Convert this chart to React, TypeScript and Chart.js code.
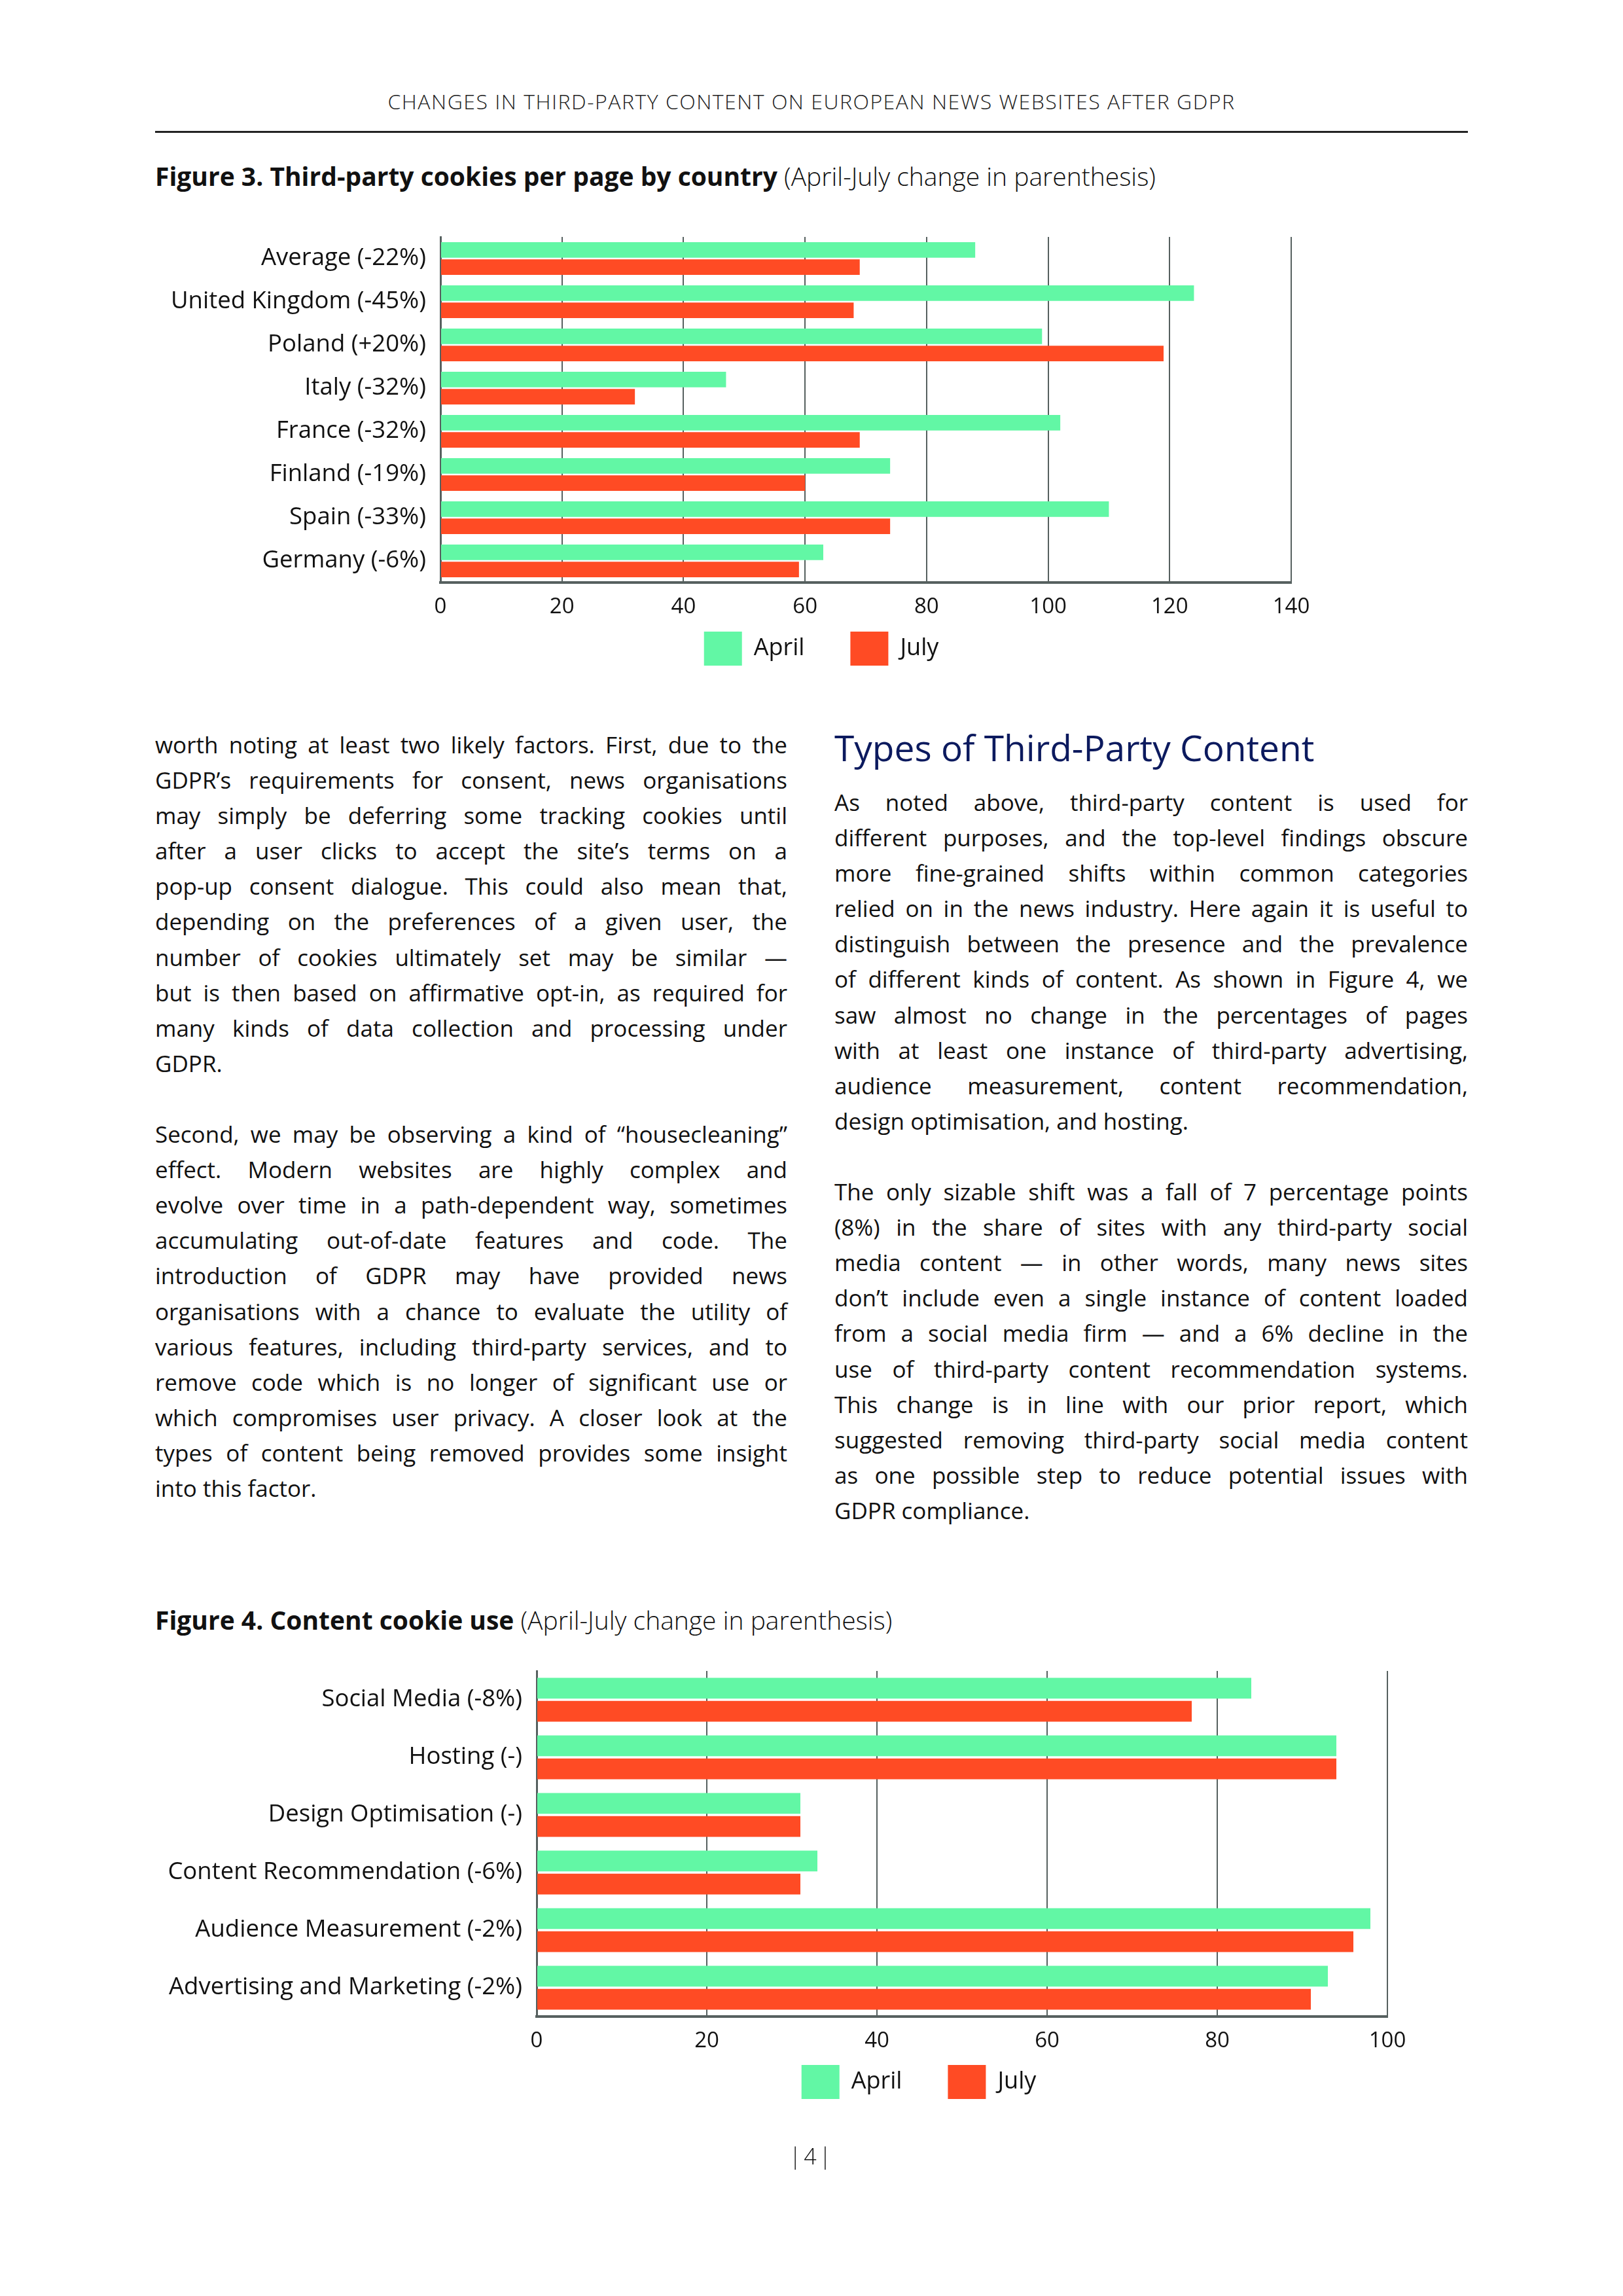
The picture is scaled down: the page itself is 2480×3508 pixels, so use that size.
import React, { useEffect, useRef } from 'react';
import { Chart, registerables } from 'chart.js';

Chart.register(...registerables);

// ---------- Data ----------
const fig3Categories = [
  'Average (-22%)',
  'United Kingdom (-45%)',
  'Poland (+20%)',
  'Italy (-32%)',
  'France (-32%)',
  'Finland (-19%)',
  'Spain (-33%)',
  'Germany (-6%)',
];
const fig3April = [88, 124, 99, 47, 102, 74, 110, 63];
const fig3July = [69, 68, 119, 32, 69, 60, 74, 59];
const fig3Max = 140;

const fig4Categories = [
  'Social Media (-8%)',
  'Hosting (-)',
  'Design Optimisation (-)',
  'Content Recommendation (-6%)',
  'Audience Measurement (-2%)',
  'Advertising and Marketing (-2%)',
];
const fig4April = [84, 94, 31, 33, 98, 93];
const fig4July = [77, 94, 31, 31, 96, 91];
const fig4Max = 100;

const tickStep = 20;
const seriesNames = ['April', 'July'];

// ---------- Text ----------
const headerText = 'CHANGES IN THIRD-PARTY CONTENT ON EUROPEAN NEWS WEBSITES AFTER GDPR';
const leftPara1 = [
  'worth noting at least two likely factors. First, due to the',
  'GDPR’s requirements for consent, news organisations',
  'may simply be deferring some tracking cookies until',
  'after a user clicks to accept the site’s terms on a',
  'pop-up consent dialogue. This could also mean that,',
  'depending on the preferences of a given user, the',
  'number of cookies ultimately set may be similar —',
  'but is then based on affirmative opt-in, as required for',
  'many kinds of data collection and processing under',
  'GDPR.',
];
const leftPara2 = [
  'Second, we may be observing a kind of “housecleaning”',
  'effect. Modern websites are highly complex and',
  'evolve over time in a path-dependent way, sometimes',
  'accumulating out-of-date features and code. The',
  'introduction of GDPR may have provided news',
  'organisations with a chance to evaluate the utility of',
  'various features, including third-party services, and to',
  'remove code which is no longer of significant use or',
  'which compromises user privacy. A closer look at the',
  'types of content being removed provides some insight',
  'into this factor.',
];
const rightPara1 = [
  'As noted above, third-party content is used for',
  'different purposes, and the top-level findings obscure',
  'more fine-grained shifts within common categories',
  'relied on in the news industry. Here again it is useful to',
  'distinguish between the presence and the prevalence',
  'of different kinds of content. As shown in Figure 4, we',
  'saw almost no change in the percentages of pages',
  'with at least one instance of third-party advertising,',
  'audience measurement, content recommendation,',
  'design optimisation, and hosting.',
];
const rightPara2 = [
  'The only sizable shift was a fall of 7 percentage points',
  '(8%) in the share of sites with any third-party social',
  'media content — in other words, many news sites',
  'don’t include even a single instance of content loaded',
  'from a social media firm — and a 6% decline in the',
  'use of third-party content recommendation systems.',
  'This change is in line with our prior report, which',
  'suggested removing third-party social media content',
  'as one possible step to reduce potential issues with',
  'GDPR compliance.',
];

// ---------- Style ----------
const FONT = "'Open Sans', 'Noto Sans', sans-serif";
const GREEN = '#62F7A5';
const RED = '#FF4B24';
const GRID = '#56605F';
const TEXT = '#111111';
const NAVY = '#0C1A5E';
const LEGEND_PAD = 70;
const RIGHT_PAD = 60;

type ChartProps = {
  labels: string[];
  april: number[];
  july: number[];
  max: number;
  left: number;
  top: number;
  width: number;
  height: number;
  padTop: number;
  yWidth: number;
  legendCenter: number; // desired legend centre, in canvas pixels
  legendGap: number;
};

function BarChart(p: ChartProps) {
  const ref = useRef<HTMLCanvasElement>(null);
  useEffect(() => {
    if (!ref.current) return;
    const shiftPlugin = {
      id: 'legendShift',
      afterLayout(chart: any) {
        const lg = chart.legend;
        if (lg) {
          const dx = p.legendCenter - (lg.left + lg.right) / 2;
          lg.left += dx;
          lg.right += dx;
          const targetTop = chart.chartArea.bottom + p.legendGap - LEGEND_PAD;
          const d = targetTop - lg.top;
          lg.top += d;
          lg.bottom += d;
        }
      },
    };
    const chart = new Chart(ref.current, {
      type: 'bar',
      data: {
        labels: p.labels,
        datasets: [
          {
            label: seriesNames[0],
            data: p.april,
            backgroundColor: GREEN,
            borderWidth: 0,
            barPercentage: 0.9,
            categoryPercentage: 0.8,
          },
          {
            label: seriesNames[1],
            data: p.july,
            backgroundColor: RED,
            borderWidth: 0,
            barPercentage: 0.9,
            categoryPercentage: 0.8,
          },
        ],
      },
      options: {
        indexAxis: 'y',
        responsive: false,
        maintainAspectRatio: false,
        animation: false,
        devicePixelRatio: 1,
        layout: { padding: { left: 0, right: RIGHT_PAD, top: p.padTop, bottom: 0 } },
        scales: {
          x: {
            type: 'linear',
            position: 'bottom',
            min: 0,
            max: p.max,
            ticks: {
              stepSize: tickStep,
              padding: 18,
              color: TEXT,
              font: { family: FONT, size: 33, weight: '400' },
            },
            grid: { color: GRID, lineWidth: 2, drawTicks: false },
            border: { display: true, color: GRID, width: 4 },
            afterFit: (s: any) => {
              s.height = 60;
            },
          },
          y: {
            ticks: {
              padding: 22,
              color: TEXT,
              font: { family: FONT, size: 36.5, weight: '400' },
            },
            grid: { display: false, drawTicks: false },
            border: { display: true, color: GRID, width: 3 },
            afterFit: (s: any) => {
              s.width = p.yWidth;
            },
          },
        },
        plugins: {
          legend: {
            display: true,
            position: 'bottom',
            fullSize: false,
            labels: {
              boxWidth: 58,
              boxHeight: 52,
              padding: LEGEND_PAD,
              color: TEXT,
              font: { family: FONT, size: 36, weight: '400' },
            },
          },
          tooltip: { enabled: false },
          title: { display: false },
        },
      },
      plugins: [shiftPlugin],
    } as any);
    return () => chart.destroy();
  }, []);
  return (
    <canvas
      ref={ref}
      width={p.width}
      height={p.height}
      style={{ position: 'absolute', left: p.left, top: p.top, width: p.width, height: p.height }}
    />
  );
}

function Column(props: { paras: string[][]; left: number; top: number; width: number }) {
  const rows: React.ReactNode[] = [];
  props.paras.forEach((para, pi) => {
    if (pi > 0) rows.push(<div key={'gap' + pi} style={{ height: 54.1 }} />);
    para.forEach((line, li) => {
      const last = li === para.length - 1;
      rows.push(
        <div
          key={pi + '-' + li}
          style={{
            textAlign: last ? 'left' : 'justify',
            textAlignLast: last ? 'left' : 'justify',
          } as any}
        >
          {line}
        </div>
      );
    });
  });
  return (
    <div
      style={{
        position: 'absolute',
        left: props.left,
        top: props.top,
        width: props.width,
        fontSize: 35,
        lineHeight: '54.1px',
        fontWeight: 400,
        color: TEXT,
      }}
    >
      {rows}
    </div>
  );
}

export default function App() {
  return (
    <div
      style={{
        position: 'absolute',
        left: 0,
        top: 0,
        width: 2480,
        height: 3508,
        background: '#ffffff',
        fontFamily: FONT,
        color: TEXT,
        overflow: 'hidden',
      }}
    >
      <div
        style={{
          position: 'absolute',
          left: 0,
          top: 139,
          width: 2480,
          textAlign: 'center',
          fontSize: 32,
          lineHeight: 1,
          fontWeight: 300,
          letterSpacing: 1.5,
          color: '#222',
        }}
      >
        {headerText}
      </div>
      <div style={{ position: 'absolute', left: 237, top: 200, width: 2006, height: 3, background: '#222' }} />

      <div style={{ position: 'absolute', left: 237, top: 249, fontSize: 39, lineHeight: 1, whiteSpace: 'nowrap' }}>
        <span style={{ fontWeight: 700 }}>Figure 3. Third-party cookies per page by country</span>{' '}
        <span style={{ fontWeight: 300 }}>(April-July change in parenthesis)</span>
      </div>

      <BarChart
        labels={fig3Categories}
        april={fig3April}
        july={fig3July}
        max={fig3Max}
        left={237}
        top={312}
        width={1796}
        height={770}
        padTop={50}
        yWidth={436}
        legendCenter={1255 - 237}
        legendGap={75}
      />

      <Column paras={[leftPara1, leftPara2]} left={237} top={1111} width={966} />

      <div
        style={{
          position: 'absolute',
          left: 1275,
          top: 1114,
          fontSize: 55,
          lineHeight: 1,
          color: NAVY,
          whiteSpace: 'nowrap',
        }}
      >
        Types of Third-Party Content
      </div>
      <Column paras={[rightPara1, rightPara2]} left={1275} top={1199} width={968} />

      <div style={{ position: 'absolute', left: 237, top: 2455, fontSize: 39, lineHeight: 1, whiteSpace: 'nowrap' }}>
        <span style={{ fontWeight: 700 }}>Figure 4. Content cookie use</span>{' '}
        <span style={{ fontWeight: 300 }}>(April-July change in parenthesis)</span>
      </div>

      <BarChart
        labels={fig4Categories}
        april={fig4April}
        july={fig4July}
        max={fig4Max}
        left={237}
        top={2503}
        width={1943}
        height={770}
        padTop={50}
        yWidth={583}
        legendCenter={1404 - 237}
        legendGap={74}
      />

      <div
        style={{
          position: 'absolute',
          left: 0,
          top: 3277,
          width: 2480,
          textAlign: 'center',
          fontSize: 34,
          lineHeight: 1,
          fontWeight: 300,
          letterSpacing: 4,
        }}
      >
        |4|
      </div>
    </div>
  );
}
